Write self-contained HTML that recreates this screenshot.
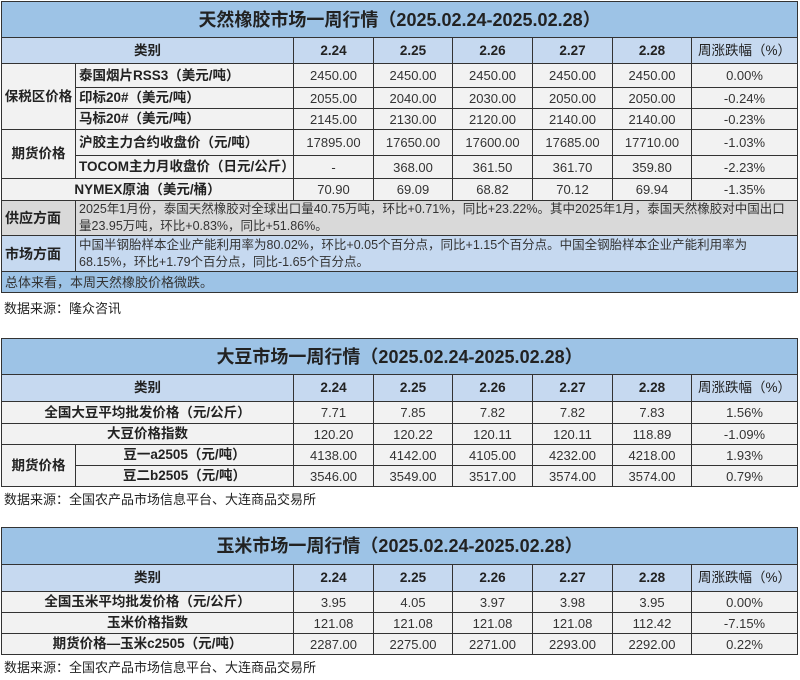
<!DOCTYPE html>
<html><head><meta charset="utf-8"><style>
body{margin:0;background:#fff;width:800px;height:680px;position:relative;overflow:hidden;font-family:"Liberation Sans","Noto Sans CJK SC",sans-serif;color:#222}
table{position:absolute;left:1px;border-collapse:collapse;table-layout:fixed;width:796px}
td{border:1px solid #333;padding:0;text-align:center;font-size:13px;background:#f2f2f2;white-space:nowrap;overflow:hidden;line-height:1;color:#333}
td.t{background:#9dc3e6;font-size:18px;font-weight:bold;border:1.5px solid #333;color:#222}
tr.h td{background:#c6d9f0;font-weight:bold;font-size:13.5px;color:#222}
td.b{font-weight:bold;font-size:13.5px;color:#222}
td.l{text-align:left;padding-left:3px}
td.sup{background:#d9d9d9;text-align:left;padding-left:3px;white-space:normal;line-height:17px;font-size:12.5px}
td.mk{background:#c6d9f0;text-align:left;padding-left:3px;white-space:normal;line-height:17px;font-size:12.5px}
td.sum{background:#9dc3e6;text-align:left;padding-left:3px}
td.sl{text-align:left;padding-left:3px;font-weight:bold;font-size:14px;color:#222}
.src{position:absolute;left:4px;font-size:13px;color:#222}
</style></head><body>
<table style="top:1px">
<colgroup><col style="width:74px"><col style="width:218px"><col style="width:80px"><col style="width:79px"><col style="width:80px"><col style="width:80px"><col style="width:79px"><col style="width:106px"></colgroup>
<tr style="height:36px"><td class="t" colspan="8">天然橡胶市场一周行情（2025.02.24-2025.02.28）</td></tr>
<tr class="h" style="height:26px"><td colspan="2">类别</td><td>2.24</td><td>2.25</td><td>2.26</td><td>2.27</td><td>2.28</td><td style="font-weight:normal">周涨跌幅（%）</td></tr>
<tr style="height:24px"><td class="b" rowspan="3">保税区价格</td><td class="l b">泰国烟片RSS3（美元/吨）</td><td>2450.00</td><td>2450.00</td><td>2450.00</td><td>2450.00</td><td>2450.00</td><td>0.00%</td></tr>
<tr style="height:21px"><td class="l b">印标20#（美元/吨）</td><td>2055.00</td><td>2040.00</td><td>2030.00</td><td>2050.00</td><td>2050.00</td><td>-0.24%</td></tr>
<tr style="height:21px"><td class="l b">马标20#（美元/吨）</td><td>2145.00</td><td>2130.00</td><td>2120.00</td><td>2140.00</td><td>2140.00</td><td>-0.23%</td></tr>
<tr style="height:26px"><td class="b" rowspan="2">期货价格</td><td class="l b">沪胶主力合约收盘价（元/吨）</td><td>17895.00</td><td>17650.00</td><td>17600.00</td><td>17685.00</td><td>17710.00</td><td>-1.03%</td></tr>
<tr style="height:23px"><td class="l b">TOCOM主力月收盘价（日元/公斤）</td><td>-</td><td>368.00</td><td>361.50</td><td>361.70</td><td>359.80</td><td>-2.23%</td></tr>
<tr style="height:22px"><td colspan="2" class="b">NYMEX原油（美元/桶）</td><td>70.90</td><td>69.09</td><td>68.82</td><td>70.12</td><td>69.94</td><td>-1.35%</td></tr>
<tr style="height:35px"><td class="sl" style="background:#d9d9d9">供应方面</td><td class="sup" colspan="7">2025年1月份，泰国天然橡胶对全球出口量40.75万吨，环比+0.71%，同比+23.22%。其中2025年1月，泰国天然橡胶对中国出口量23.95万吨，环比+0.83%，同比+51.86%。</td></tr>
<tr style="height:36px"><td class="sl" style="background:#c6d9f0">市场方面</td><td class="mk" colspan="7">中国半钢胎样本企业产能利用率为80.02%，环比+0.05个百分点，同比+1.15个百分点。中国全钢胎样本企业产能利用率为68.15%，环比+1.79个百分点，同比-1.65个百分点。</td></tr>
<tr style="height:21px"><td class="sum" colspan="8">总体来看，本周天然橡胶价格微跌。</td></tr>
</table>
<div class="src" style="top:298px">数据来源：隆众咨讯</div>

<table style="top:338px">
<colgroup><col style="width:74px"><col style="width:218px"><col style="width:80px"><col style="width:79px"><col style="width:80px"><col style="width:80px"><col style="width:79px"><col style="width:106px"></colgroup>
<tr style="height:36px"><td class="t" colspan="8">大豆市场一周行情（2025.02.24-2025.02.28）</td></tr>
<tr class="h" style="height:27px"><td colspan="2">类别</td><td>2.24</td><td>2.25</td><td>2.26</td><td>2.27</td><td>2.28</td><td style="font-weight:normal">周涨跌幅（%）</td></tr>
<tr style="height:22px"><td colspan="2" class="b">全国大豆平均批发价格（元/公斤）</td><td>7.71</td><td>7.85</td><td>7.82</td><td>7.82</td><td>7.83</td><td>1.56%</td></tr>
<tr style="height:21px"><td colspan="2" class="b">大豆价格指数</td><td>120.20</td><td>120.22</td><td>120.11</td><td>120.11</td><td>118.89</td><td>-1.09%</td></tr>
<tr style="height:21px"><td class="b" rowspan="2">期货价格</td><td class="b">豆一a2505（元/吨）</td><td>4138.00</td><td>4142.00</td><td>4105.00</td><td>4232.00</td><td>4218.00</td><td>1.93%</td></tr>
<tr style="height:21px"><td class="b">豆二b2505（元/吨）</td><td>3546.00</td><td>3549.00</td><td>3517.00</td><td>3574.00</td><td>3574.00</td><td>0.79%</td></tr>
</table>
<div class="src" style="top:489px">数据来源：全国农产品市场信息平台、大连商品交易所</div>

<table style="top:527px">
<colgroup><col style="width:74px"><col style="width:218px"><col style="width:80px"><col style="width:79px"><col style="width:80px"><col style="width:80px"><col style="width:79px"><col style="width:106px"></colgroup>
<tr style="height:37px"><td class="t" colspan="8">玉米市场一周行情（2025.02.24-2025.02.28）</td></tr>
<tr class="h" style="height:27px"><td colspan="2">类别</td><td>2.24</td><td>2.25</td><td>2.26</td><td>2.27</td><td>2.28</td><td style="font-weight:normal">周涨跌幅（%）</td></tr>
<tr style="height:21px"><td colspan="2" class="b">全国玉米平均批发价格（元/公斤）</td><td>3.95</td><td>4.05</td><td>3.97</td><td>3.98</td><td>3.95</td><td>0.00%</td></tr>
<tr style="height:21px"><td colspan="2" class="b">玉米价格指数</td><td>121.08</td><td>121.08</td><td>121.08</td><td>121.08</td><td>112.42</td><td>-7.15%</td></tr>
<tr style="height:21px"><td colspan="2" class="b">期货价格—玉米c2505（元/吨）</td><td>2287.00</td><td>2275.00</td><td>2271.00</td><td>2293.00</td><td>2292.00</td><td>0.22%</td></tr>
</table>
<div class="src" style="top:657px">数据来源：全国农产品市场信息平台、大连商品交易所</div>
</body></html>
